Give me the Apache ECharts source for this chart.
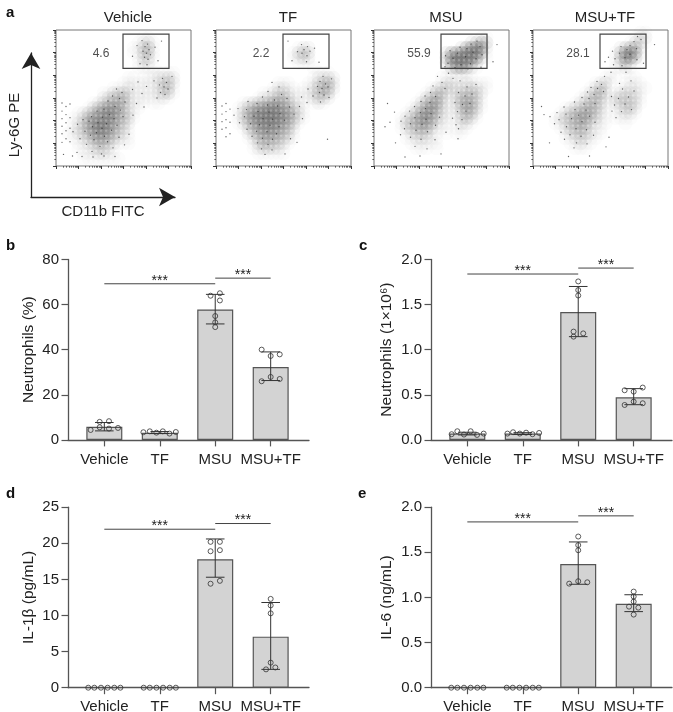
<!DOCTYPE html>
<html><head><meta charset="utf-8">
<style>html,body{margin:0;background:#fff}#c{width:673px;height:712px}</style>
<script src="https://cdn.jsdelivr.net/npm/echarts@6/dist/echarts.min.js"></script>
</head><body><div id="c"></div>
<script>
const categories = ['Vehicle','TF','MSU','MSU+TF'];
const FONT = '"Liberation Sans", Arial, sans-serif';

// --- panel a: flow plots. Density (0-9), one string per row of cells, top to bottom
const flowNames = ['Vehicle','TF','MSU','MSU+TF'];
const flowPercents = ['4.6','2.2','55.9','28.1'];
const densityVehicle = [
"000000000000000000000000000","000000000000000001100000000","000000000000000012310000000","000000000000000114510000000",
"000000000000000114410000000","000000000000000013310000000","000000000000000012200000000","000000000000000011110000000",
"000000000000000000011111000","000000000000001101112232000","000000000000011111112342000","000000000001112111112341000",
"000000000113342111112341000","000000000234452111111210000","000000012345542111011000000","000000135677642110000000000",
"000012456787542100000000000","000113567787543100000000000","000123678876432000000000000","000123578875331000000000000",
"001123467765321000000000000","000112356653211000000000000","000011234432111000000000000","000011123321000000000000000",
"000001112211000000000000000","000001111111100000000000000","000000000000000000000000000"];
const densityTF = [
"000000000000000000000000000","000000000000000000000000000","000000000000000000000000000","000000000000000012200000000",
"000000000000000134300000000","000000000000000123200000000","000000000000000011100000000","000000000000000000010000000",
"000000000000000000001110000","000000000000000000012232000","000000000000111000113452000","000000000001221101124552000",
"000000000112332111124441000","000000001223443111123320000","000001234456654211012100000","000012456788765321000000000",
"000013578899876421000000000","000013578899876421000000000","000012467888765310000000000","000001346777654200000000000",
"000000235666543100000000000","000000124555432100000000000","000000013443321000000000000","000000012332210000000000000",
"000000001111110000000000000","000000000000000000000000000","000000000000000000000000000"];
const densityMSU = [
"000000000000000000000000000","000000000000000000000110000","000000000000000000034740000","000000000000000003789920000",
"000000000000003788999710000","000000000000004899998310000","000000000000003799974100000","000000000000001467531000000",
"000000000000000111100000000","000000000000011111110000000","000000000000012211211110000","000000000001233222232110000",
"000000000012442123343200000","000000000134541134543100000","000000001346631124653100000","000000012467531124653100000",
"000000124677421113542000000","000001235776321113431000000","000001345665211012210000000","000001234553111011100000000",
"000000123331101011000000000","000000112221100000000000000","000000011111100000000000000","000000001110100000000000000",
"000000000000000000000000000","000000000000000000000000000","000000000000000000000000000"];
const densityMSUTF = [
"000000000000000000000110000","000000000000000000001220000","000000000000000000013310000","000000000000000002465200000",
"000000000000000015897100000","000000000000000014885100000","000000000000000013531000000","000000000000000011210000000",
"000000000000000100100000000","000000000000001110011000000","000000000000123100111100000","000000000001242001121110000",
"000000000012452112222100000","000000000123431123322100000","000000001234431122332100000","000000123345421012332000000",
"000001234565321011221000000","000012345664311011110000000","000011234552211000100000000","000001234441110000000000000",
"000000123332110000000000000","000000112321100000000000000","000000011211000000000000000","000000001110000000000000000",
"000000000000000000000000000","000000000000000000000000000","000000000000000000000000000"];
const flowDensities = [densityVehicle,densityTF,densityMSU,densityMSUTF];
// individual events picked out of the reference, in cell units
const eventsVehicle = [[17.2,2.1],[18.3,2.8],[17.8,3.3],[18.6,3.9],[17.4,4.2],[18.1,4.6],[18.9,4.9],[17.7,5.4],[18.4,5.8],[16.2,3.1],[19.8,3.4],[15.3,5.2],[20.4,6.1],[16.8,6.7],[21.1,2.2],[18.2,6.9],[21.3,9.6],[22.1,10.4],[20.7,10.9],[21.6,11.3],[22.4,11.7],[20.9,12.4],[21.8,12.8],[19.6,10.1],[23.2,9.2],[20.2,13.5],[18.1,11.2],[17.2,12.6],[16.4,10.3],[15.3,11.8],[12.1,11.7],[13.2,12.4],[11.3,13.1],[12.7,13.6],[13.8,14.3],[10.4,14.1],[11.8,15.2],[9.6,15.7],[12.9,15.9],[8.2,16.1],[10.7,16.8],[7.1,17.2],[9.3,17.3],[11.6,17.6],[13.4,17.2],[5.4,17.8],[6.6,18.1],[8.4,18.4],[10.1,18.6],[12.2,18.9],[4.3,18.7],[7.3,19.2],[9.2,19.5],[11.1,19.9],[5.8,20.1],[8.1,20.4],[3.4,20.2],[6.9,20.9],[9.7,21.1],[12.6,21.3],[4.8,21.6],[7.6,21.8],[10.3,22.2],[6.1,22.7],[8.8,23.1],[11.4,23.4],[7.2,24.1],[9.1,24.6],[13.7,22.8],[14.6,20.7],[1.2,14.5],[1.2,16.1],[1.2,17.6],[1.2,19.1],[1.2,20.6],[1.2,22.3],[2,15.2],[2,16.8],[2,18.4],[2,20],[2,21.6],[2.8,14.7],[2.8,17.4],[2.8,19.5],[2.8,22.2],[1.5,24.7],[3.3,25],[5.2,25.1],[7.4,25.2],[9.6,25],[11.8,25.1],[4.2,24.3],[16.1,14.6],[17.6,15.3],[15.4,16.9]];
const eventsTF = [[17.1,2.9],[18.3,3.3],[17.6,3.9],[18.8,4.2],[17.2,4.6],[18.2,5.1],[16.3,4.3],[19.7,3.6],[15.2,6.1],[20.6,6.4],[18.1,6.3],[14.4,2.2],[21.4,9.2],[20.8,10.2],[21.9,10.7],[20.3,11.2],[21.2,11.6],[22.4,11.3],[20.7,12.4],[21.6,12.9],[19.4,13.1],[23.1,9.7],[22.6,13.4],[18.4,11.7],[17.1,13.3],[20.9,14.3],[11.2,10.4],[12.6,11.3],[10.4,12.2],[13.1,12.8],[9.3,13.3],[11.7,13.9],[14.2,13.6],[6.4,14.2],[8.2,14.6],[10.3,14.9],[12.3,15.1],[14.7,15.3],[4.4,15.6],[6.1,15.8],[8.4,16.2],[10.6,16.3],[12.8,16.6],[15.6,16.7],[3.6,16.9],[5.7,17.2],[7.6,17.1],[9.4,17.6],[11.3,17.7],[13.7,17.9],[4.7,18.4],[6.9,18.6],[8.7,18.8],[10.8,18.9],[12.6,19.2],[6.2,19.7],[8.1,20.1],[10.2,20.2],[12.1,20.6],[7.2,21.1],[9.3,21.5],[11.3,21.7],[8.3,22.4],[10.4,22.7],[9.1,23.6],[11.2,23.8],[9.8,24.7],[13.8,24.6],[1.2,15.1],[1.2,16.7],[1.2,18.2],[1.2,19.7],[2,14.6],[2,16.2],[2,17.8],[2,19.4],[2,21.2],[2.8,15.7],[2.8,18.3],[2.8,20.6],[16.7,15.2],[18.2,14.4],[17.3,17.6],[14.9,21.6],[22.3,21.7],[16.2,22.3]];
const eventsMSU = [[20.6,2.2],[19.4,2.8],[21.2,3.3],[17.2,3.4],[18.6,3.7],[15.2,4.1],[16.7,4.6],[19.8,4.4],[14.3,5.1],[15.8,5.6],[18.3,5.3],[20.4,5.7],[14.8,6.6],[17.4,6.9],[19.3,6.7],[21.6,4.9],[16.2,7.5],[18.8,7.7],[14.2,7.3],[21.4,7.4],[24.6,2.9],[23.8,6.3],[14.9,8.6],[12.7,9.2],[15.8,9.6],[13.6,10.4],[17.2,10.1],[11.8,11.1],[14.2,11.6],[18.6,11.3],[20.4,10.8],[11.3,12.4],[10.2,13.1],[12.3,13.2],[16.9,12.4],[18.2,13.1],[19.6,12.7],[9.4,14.2],[11.2,14.4],[8.1,15.2],[10.3,15.6],[16.2,14.4],[17.7,14.8],[19.2,14.6],[7.1,16.1],[9.3,16.4],[11.4,16.6],[16.7,16.2],[18.4,16.1],[6.2,17.1],[8.2,17.4],[10.4,17.7],[13.1,17.3],[15.7,17.5],[17.6,17.8],[5.4,18.1],[7.3,18.6],[9.6,18.7],[12.3,18.9],[16.4,18.8],[6.1,19.6],[8.4,19.9],[10.7,20.2],[14.4,20.3],[16.9,19.6],[5.3,20.8],[7.3,21.3],[9.4,21.7],[12.2,21.8],[3.2,18.3],[4.1,16.3],[2.2,19.2],[4.3,22.4],[8.2,23.1],[10.6,23.6],[13.4,24.6],[6.2,25.2],[9.2,25],[16.8,21.6],[2.7,14.6]];
const eventsMSUTF = [[20.9,1.3],[21.6,1.9],[20.2,2.3],[19.4,3.1],[20.7,3.7],[17.6,3.3],[18.8,3.9],[15.9,4.2],[17.3,4.6],[19.4,4.8],[15.1,5.4],[16.4,5.7],[18.4,5.5],[20.8,5.9],[16.1,6.9],[17.8,7.1],[14.4,6.3],[22.1,6.6],[18.6,8.4],[24.3,2.9],[14.3,9.2],[15.6,8.4],[12.8,10.2],[13.7,10.8],[11.6,11.4],[12.9,11.6],[17.3,10.6],[19.6,10.1],[10.9,12.3],[12.2,12.8],[14.1,12.2],[17.9,11.7],[20.2,12.1],[9.8,13.4],[11.2,13.6],[15.7,13.2],[17.1,13.6],[19.1,13.3],[8.3,14.3],[10.2,14.7],[12.4,14.6],[16.3,14.9],[18.4,14.7],[6.2,15.3],[8.4,15.8],[10.6,15.9],[15.8,16.1],[17.7,16.2],[19.7,15.8],[4.8,16.4],[6.6,16.7],[9.1,16.9],[11.3,17.1],[16.6,17.4],[3.4,17.2],[5.2,17.8],[7.7,17.6],[9.8,18.2],[12.4,18.3],[4.3,18.6],[6.7,19.2],[8.6,19.6],[10.7,19.8],[2.2,16.8],[1.7,15.2],[5.6,20.3],[7.4,20.8],[9.6,21.1],[12.1,20.9],[6.3,21.7],[8.7,22.4],[10.8,22.6],[8.2,23.4],[3.3,22.4],[15.2,21.3],[7.1,25.1],[11.3,25],[14.6,23.2]];
const flowEvents = [eventsVehicle,eventsTF,eventsMSU,eventsMSUTF];
const gateBox = [13.4,22.6,0.8,7.6]; // x0,x1,y0,y1 in cell units

// --- panel b
const meansB = [5.8,3.2,57.8,32.3];
const hiB = [7.7,3.7,64.5,39];
const loB = [4,2.8,51.4,26.3];
const pointsB = [
 [[-.247,4.4],[-.084,8],[.084,8.3],[-.084,5.6],[.084,5],[.247,5.3]],
 [[-.295,3.4],[-.18,3.8],[-.06,3.2],[.055,3.8],[.175,2.8],[.29,3.5]],
 [[-.084,63.9],[.084,65],[.084,61.8],[0,54.9],[0,52.1],[0,50]],
 [[-.163,40],[.163,37.9],[0,37.2],[0,27.9],[-.163,26],[.163,27]]];
const sigB = [[1,3,69.2],[3,4,71.7]];
// --- panel c
const meansC = [.07,.07,1.417,.472];
const hiC = [.085,.08,1.70,.568];
const loC = [.055,.06,1.144,.39];
const pointsC = [
 [[-.283,.063],[-.18,.096],[-.06,.059],[.06,.096],[.175,.055],[.295,.07]],
 [[-.277,.07],[-.175,.085],[-.054,.07],[.06,.08],[.175,.063],[.295,.077]],
 [[0,1.756],[0,1.66],[0,1.6],[-.084,1.2],[.09,1.18],[-.084,1.144]],
 [[-.163,.55],[.163,.58],[0,.535],[-.163,.387],[0,.424],[.163,.406]]];
const sigC = [[1,3,1.838],[3,4,1.904]];
// --- panel d
const meansD = [0,0,17.8,7.07];
const hiD = [0,0,20.6,11.8];
const loD = [0,0,15.3,2.54];
const pointsD = [
 [[-.29,0],[-.18,0],[-.06,0],[.06,0],[.18,0],[.29,0]],
 [[-.29,0],[-.18,0],[-.06,0],[.06,0],[.18,0],[.29,0]],
 [[-.084,20.2],[.084,20.2],[-.084,18.9],[.084,19.05],[.084,14.8],[-.084,14.4]],
 [[0,12.3],[0,11.4],[0,10.3],[0,3.47],[.084,2.8],[-.084,2.54]]];
const sigD = [[1,3,21.95],[3,4,22.74]];
// --- panel e
const meansE = [0,0,1.37,.93];
const hiE = [0,0,1.615,1.03];
const loE = [0,0,1.146,.843];
const pointsE = [
 [[-.29,0],[-.18,0],[-.06,0],[.06,0],[.18,0],[.29,0]],
 [[-.29,0],[-.18,0],[-.06,0],[.06,0],[.18,0],[.29,0]],
 [[0,1.675],[0,1.58],[0,1.523],[-.163,1.153],[0,1.18],[.163,1.168]],
 [[0,1.065],[0,1.01],[0,.954],[-.084,.898],[.084,.887],[0,.81]]];
const sigE = [[1,3,1.837],[3,4,1.904]];

const TXT='#222', AX='#555';
const grid=[], xAxis=[], yAxis=[], series=[], title=[];
function addGrid(g){g.outerBoundsMode='none';grid.push(g);return grid.length-1;}

// flow
const flowLeft=[56,216,374,533];
flowNames.forEach((name,p)=>{
  const g=addGrid({left:flowLeft[p],top:30,width:135,height:136,show:true,borderColor:'#777',borderWidth:1});
  const xi=xAxis.length, yi=yAxis.length;
  xAxis.push({gridIndex:g,type:'value',min:0,max:27,show:false});
  yAxis.push({gridIndex:g,type:'value',min:0,max:27,inverse:true,show:false});
  const tick={axisLine:{show:false},splitLine:{show:false},axisLabel:{show:false},
    axisTick:{length:3,lineStyle:{color:'#333'}},minorTick:{show:true,splitNumber:9,length:1.6,lineStyle:{color:'#555'}}};
  xAxis.push({gridIndex:g,type:'log',logBase:10,min:1,max:1e6,position:'bottom',...tick});
  yAxis.push({gridIndex:g,type:'log',logBase:10,min:1,max:1e6,position:'left',...tick});
  const pts=[];
  flowDensities[p].forEach((row,r)=>{[...row].forEach((ch,c)=>{const d=+ch;if(d>0)pts.push({value:[c+.5,r+.5],itemStyle:{opacity:d*0.015}});});});
  series.push({type:'scatter',xAxisIndex:xi,yAxisIndex:yi,data:pts,symbol:'circle',symbolSize:14,itemStyle:{color:'#222'},silent:true,z:1});
  series.push({type:'scatter',xAxisIndex:xi,yAxisIndex:yi,data:flowEvents[p],symbol:'circle',symbolSize:1.4,itemStyle:{color:'#222',opacity:.7},silent:true,z:2});
  series.push({type:'custom',xAxisIndex:xi,yAxisIndex:yi,data:[gateBox],silent:true,z:3,clip:false,
    renderItem:(ps,api)=>{const a=api.coord([api.value(0),api.value(2)]),b=api.coord([api.value(1),api.value(3)]);
      return {type:'rect',shape:{x:a[0],y:a[1],width:b[0]-a[0],height:b[1]-a[1]},style:{fill:'none',stroke:'#444',lineWidth:1.2}};},
    encode:{x:[0,1],y:[2,3]}});
  series.push({type:'scatter',xAxisIndex:xi,yAxisIndex:yi,data:[[9,4.8]],symbolSize:0,silent:true,z:4,
    label:{show:true,position:'inside',formatter:flowPercents[p],fontFamily:FONT,fontSize:12,color:TXT}});
  title.push({text:name,left:flowLeft[p]+67,top:5,textAlign:'center',textStyle:{fontFamily:FONT,fontSize:15,fontWeight:'normal',color:TXT}});
});

// arrows
{
  const g=addGrid({left:31,top:53,width:144,height:144});
  xAxis.push({gridIndex:g,type:'value',min:0,max:1,name:'CD11b FITC',nameLocation:'middle',nameGap:7,nameMoveOverlap:false,
    nameTextStyle:{fontFamily:FONT,fontSize:15,color:TXT},
    axisLine:{show:true,symbol:['none','arrow'],symbolSize:[14,16],lineStyle:{color:'#222',width:1.3}},axisTick:{show:false},axisLabel:{show:false},splitLine:{show:false}});
  yAxis.push({gridIndex:g,type:'value',min:0,max:1,name:'Ly-6G PE',nameLocation:'middle',nameGap:9,nameMoveOverlap:false,
    nameTextStyle:{fontFamily:FONT,fontSize:15,color:TXT},
    axisLine:{show:true,symbol:['none','arrow'],symbolSize:[14,16],lineStyle:{color:'#222',width:1.3}},axisTick:{show:false},axisLabel:{show:false},splitLine:{show:false}});
}

function barPanel(o){
  const g=addGrid({left:o.left,top:o.top,width:241,height:180.5});
  const xi=xAxis.length, yi=yAxis.length;
  xAxis.push({gridIndex:g,type:'value',min:.345,max:4.691,splitLine:{show:false},
    axisLine:{show:true,lineStyle:{color:AX,width:1.3}},
    axisTick:{show:true,length:6.5,customValues:[1,2,3,4],lineStyle:{color:AX,width:1.2}},
    axisLabel:{show:true,customValues:[1,2,3,4],margin:12,fontFamily:FONT,fontSize:15,color:TXT,hideOverlap:false,showMinLabel:true,showMaxLabel:true,formatter:v=>categories[Math.round(v)-1]}});
  yAxis.push({gridIndex:g,type:'value',min:0,max:o.max,interval:o.interval,name:o.name,nameLocation:'middle',nameGap:o.gap,nameMoveOverlap:false,
    nameTextStyle:{fontFamily:FONT,fontSize:15.5,color:TXT},splitLine:{show:false},
    axisLine:{show:true,lineStyle:{color:AX,width:1.3}},axisTick:{show:true,length:6.5,lineStyle:{color:AX,width:1.2}},
    axisLabel:{margin:9,fontFamily:FONT,fontSize:15,color:TXT,formatter:v=>o.digits?v.toFixed(o.digits):String(v)}});
  const cat=[1,2,3,4];
  series.push({type:'bar',xAxisIndex:xi,yAxisIndex:yi,barWidth:36,data:o.means.map((m,i)=>[cat[i],m]),
    itemStyle:{color:'#d3d3d3',borderColor:AX,borderWidth:1.2},silent:true,z:2});
  series.push({type:'custom',xAxisIndex:xi,yAxisIndex:yi,silent:true,z:3,clip:false,
    data:o.means.map((m,i)=>[cat[i],o.hi[i],o.lo[i]]),encode:{x:0,y:[1,2]},
    renderItem:(ps,api)=>{const a=api.coord([api.value(0),api.value(1)]),b=api.coord([api.value(0),api.value(2)]);
      if(api.value(1)===0)return {type:'group',children:[]};
      const st={stroke:'#333',lineWidth:1,fill:'none'},w=9.3;
      return {type:'group',children:[
        {type:'line',shape:{x1:a[0],y1:a[1],x2:b[0],y2:b[1]},style:st},
        {type:'line',shape:{x1:a[0]-w,y1:a[1],x2:a[0]+w,y2:a[1]},style:st},
        {type:'line',shape:{x1:b[0]-w,y1:b[1],x2:b[0]+w,y2:b[1]},style:st}]};}});
  const pts=[];o.points.forEach((grp,i)=>grp.forEach(d=>pts.push([cat[i]+d[0],d[1]])));
  series.push({type:'scatter',xAxisIndex:xi,yAxisIndex:yi,data:pts,symbol:'circle',symbolSize:5,silent:true,z:4,clip:false,
    itemStyle:{color:'rgba(255,255,255,0)',borderColor:'#333',borderWidth:1}});
  series.push({type:'custom',xAxisIndex:xi,yAxisIndex:yi,silent:true,z:4,clip:false,data:o.sig,encode:{x:[0,1],y:2},
    renderItem:(ps,api)=>{const a=api.coord([api.value(0),api.value(2)]),b=api.coord([api.value(1),api.value(2)]);
      return {type:'group',children:[
        {type:'line',shape:{x1:a[0],y1:a[1],x2:b[0],y2:b[1]},style:{stroke:'#444',lineWidth:1,fill:'none'}},
        {type:'text',style:{x:(a[0]+b[0])/2,y:a[1]-3,text:'***',fontFamily:FONT,fontSize:14,fill:'#222',align:'center',verticalAlign:'middle'}}]};}});
}
barPanel({left:68,top:259.4,max:80,interval:20,digits:0,name:'Neutrophils (%)',gap:31,means:meansB,hi:hiB,lo:loB,points:pointsB,sig:sigB});
barPanel({left:431,top:259.4,max:2,interval:.5,digits:1,name:'Neutrophils (1×10⁶)',gap:36,means:meansC,hi:hiC,lo:loC,points:pointsC,sig:sigC});
barPanel({left:68,top:507.2,max:25,interval:5,digits:0,name:'IL-1β (pg/mL)',gap:31,means:meansD,hi:hiD,lo:loD,points:pointsD,sig:sigD});
barPanel({left:431,top:507.2,max:2,interval:.5,digits:1,name:'IL-6 (ng/mL)',gap:36,means:meansE,hi:hiE,lo:loE,points:pointsE,sig:sigE});

[['a',1,0],['b',1,233],['c',354,233],['d',1,481],['e',353,481]].forEach(t=>
  title.push({text:t[0],left:t[1],top:t[2],textStyle:{fontFamily:FONT,fontSize:15,fontWeight:'bold',color:'#111'}}));

const chart=echarts.init(document.getElementById('c'),null,{renderer:'canvas'});
chart.setOption({animation:false,backgroundColor:'#fff',title,grid,xAxis,yAxis,series});
</script></body></html>
